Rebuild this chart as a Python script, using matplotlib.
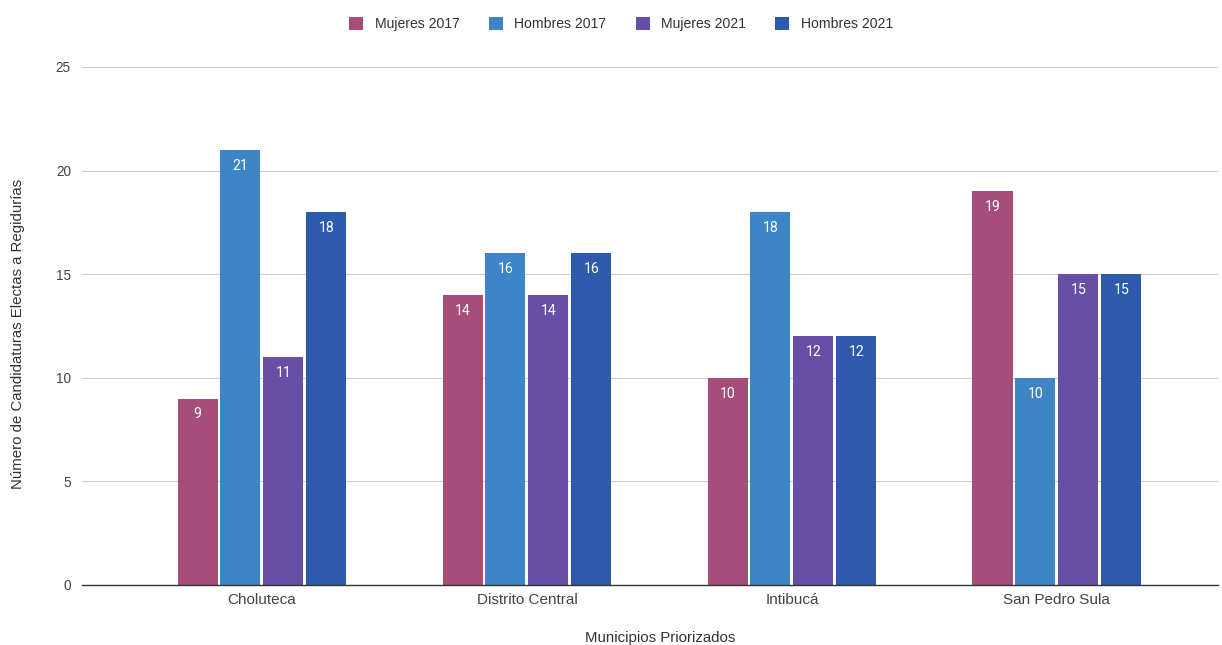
import matplotlib.pyplot as plt
import numpy as np

# Datos del gráfico
municipios = ['Choluteca', 'Distrito Central', 'Intibucá', 'San Pedro Sula']
series = ['Mujeres 2017', 'Hombres 2017', 'Mujeres 2021', 'Hombres 2021']
mujeres_2017 = [9, 14, 10, 19]
hombres_2017 = [21, 16, 18, 10]
mujeres_2021 = [11, 14, 12, 15]
hombres_2021 = [18, 16, 12, 15]
colores = ['#a64d79', '#3d85c6', '#674ea7', '#2e5aac']

valores = [mujeres_2017, hombres_2017, mujeres_2021, hombres_2021]

plt.rcParams['font.family'] = ['Liberation Sans', 'DejaVu Sans']

fig = plt.figure(figsize=(12.22, 6.45), dpi=100)
ax = fig.add_axes([82 / 1222, 1 - 585 / 645, (1218 - 82) / 1222, (585 - 67) / 645])

x = np.arange(len(municipios))
paso = 0.162
ancho = 0.151
for i, (nombre, vals, color) in enumerate(zip(series, valores, colores)):
    pos = x + (i - 1.5) * paso
    barras = ax.bar(pos, vals, width=ancho, color=color, label=nombre, zorder=3)
    for b, v in zip(barras, vals):
        ax.text(b.get_x() + b.get_width() / 2, v - 0.42, str(v), ha='center', va='top',
                color='white', fontsize=10.2, family=['Roboto', 'DejaVu Sans'], zorder=4)

ax.set_xlim(-0.679, 3.608)
ax.set_ylim(0, 25)
ax.set_yticks([0, 5, 10, 15, 20, 25])
ax.set_xticks(x)
ax.set_xticklabels(municipios)
ax.tick_params(axis='both', length=0, labelcolor='#444444')
ax.tick_params(axis='y', pad=8, labelsize=9.8)
ax.tick_params(axis='x', pad=6, labelsize=11)
ax.grid(axis='y', color='#cccccc', linewidth=0.8, zorder=0)
for s in ['top', 'right', 'left']:
    ax.spines[s].set_visible(False)
ax.spines['bottom'].set_color('#333333')
ax.spines['bottom'].set_linewidth(1)
ax.spines['bottom'].set_zorder(5)

fig.text(660 / 1222, 1 - 638 / 645, 'Municipios Priorizados', ha='center', va='center',
         fontsize=10.8, color='#333333')
fig.text(18 / 1222, 1 - 334 / 645, 'Número de Candidaturas Electas a Regidurías', ha='center',
         va='center', rotation=90, fontsize=10.8, color='#333333')

fig.legend(loc='center', bbox_to_anchor=(621 / 1222, 1 - 24 / 645), ncol=4, frameon=False,
           fontsize=10.1, handlelength=1.0, handleheight=1.0, columnspacing=2.1,
           handletextpad=0.8, labelcolor='#333333')

plt.savefig('out.png', dpi=100)
plt.close()
